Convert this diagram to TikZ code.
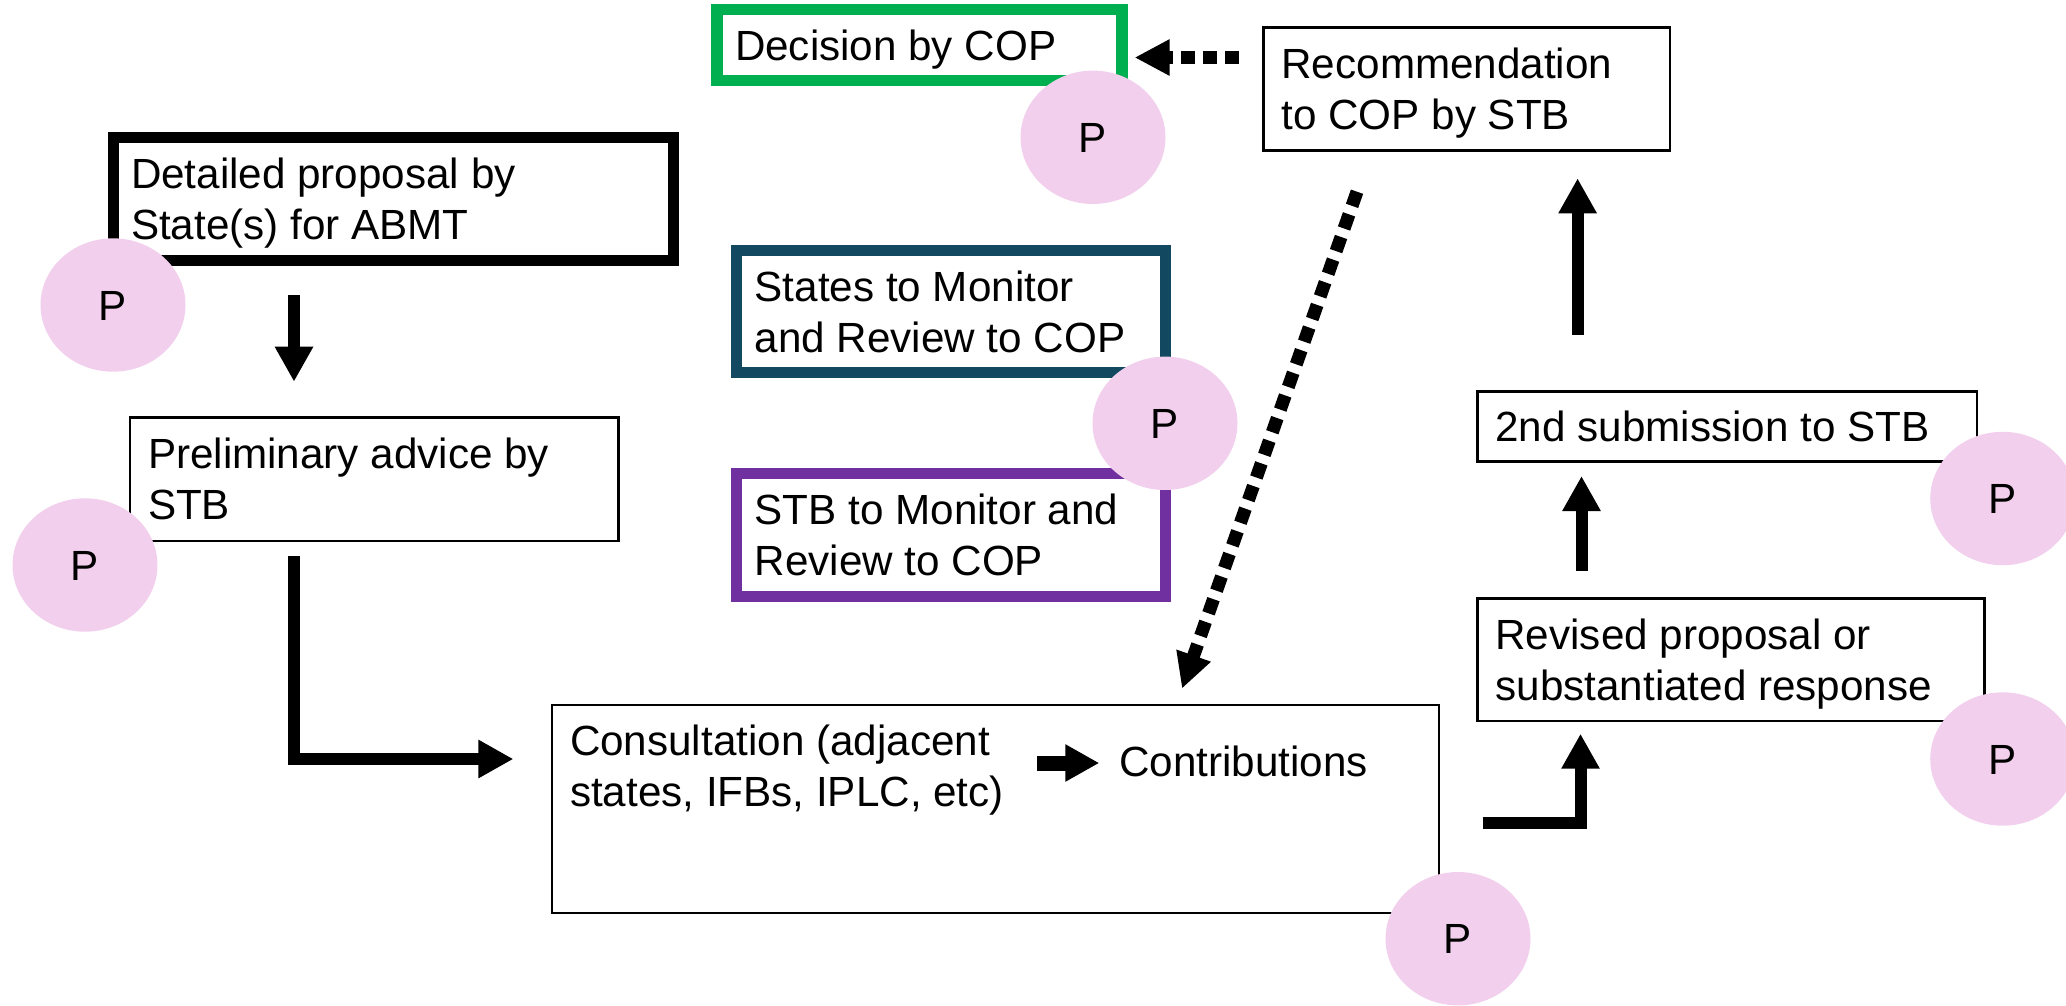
\documentclass[tikz,border=0pt]{standalone}
\usepackage{fontspec}
\setmainfont{Liberation Sans}
\usetikzlibrary{arrows.meta,calc,shapes.geometric}
\definecolor{cgreen}{RGB}{0,176,80}
\definecolor{cteal}{RGB}{19,72,97}
\definecolor{cpurple}{RGB}{112,48,160}
\definecolor{cpink}{RGB}{241,207,237}
\newcommand\bt[2]{\parbox[t]{#1}{\raggedright #2}}
\begin{document}
\begin{tikzpicture}[x=1pt,y=-1pt,
  every node/.style={font=\fontsize{42.2}{51}\selectfont},
  box/.style={draw, rectangle, inner xsep=18pt, inner ysep=0pt, text height=30.2pt, text depth=0pt, line join=miter},
  thinbox/.style={box, line width=2.5pt},
  thickbox/.style={box, line width=11pt},
  twolines/.style={text depth=51pt},
  pbub/.style={ellipse, fill=cpink, minimum width=145pt, minimum height=133.4pt, inner sep=0pt, text height=30.2pt, text depth=0pt},
  arr/.style={line width=12pt, -{Triangle[length=35pt,width=36pt]}, line join=miter},
  smallarr/.style={line width=15pt, -{Triangle[length=34pt,width=35pt]}},
  dotarr/.style={line width=13pt, dash pattern=on 14pt off 8pt, -{Triangle[length=35pt,width=34pt]}},
]
\useasboundingbox (0,0) rectangle (2066,1005);

% boxes
\node[thickbox, draw=cgreen, line width=11.5pt, minimum width=405pt, minimum height=71.2pt] (dec) at (919.5,44.9) {\bt{369pt}{Decision by COP}};
\node[thinbox, twolines, minimum width=406.5pt, minimum height=123.2pt] (rec) at (1466.75,88.9) {\bt{370.5pt}{Recommendation\\to COP by STB}};
\node[thickbox, twolines, minimum width=560.5pt, minimum height=123pt] (det) at (393.25,199) {\bt{524.5pt}{Detailed proposal by\\State(s) for ABMT}};
\node[thinbox, twolines, minimum width=488.5pt, minimum height=123.3pt] (pre) at (374.25,479.35) {\bt{452.5pt}{Preliminary advice by\\STB}};
\node[thickbox, draw=cteal, twolines, minimum width=428.7pt, minimum height=122pt] (sta) at (951.05,311.5) {\bt{392.7pt}{States to Monitor\\and Review to COP}};
\node[thickbox, draw=cpurple, twolines, minimum width=428.7pt, minimum height=122.2pt] (stb) at (951.05,534.9) {\bt{392.7pt}{STB to Monitor and\\Review to COP}};
\node[thinbox, text depth=138.2pt, minimum width=887pt, minimum height=208pt] (con) at (995.5,809) {\bt{851pt}{Consultation (adjacent\\states, IFBs, IPLC, etc)}};
\node[anchor=base west, inner sep=0pt] (contrib) at (1118.9,776.7) {Contributions};
\node[thinbox, minimum width=499.5pt, minimum height=70.2pt] (sec) at (1727.25,426.6) {\bt{463.5pt}{2nd submission to STB}};
\node[thinbox, twolines, minimum width=506.9pt, minimum height=122.3pt] (rev) at (1730.95,659.65) {\bt{470.9pt}{Revised proposal or\\substantiated response}};

% connectors
\draw[dotarr] ($(rec.west)+(-23.25,-31.4)$) -- ($(dec.east)+(6.85,12.6)$);
\draw[dotarr, dash pattern=on 15pt off 9pt] ($(rec.south west)+(94.75,39.95)$) -- ($(con.north west)+(631.25,-15.15)$);
\draw[arr] ($(det.south west)+(186.5,29)$) -- ($(pre.north west)+(165.25,-34.75)$);
\draw[arr] ($(pre.south west)+(165.25,13.35)$) |- ($(con.west)+(-37.35,-50)$);
\draw[arr] ($(con.east)+(42.45,13.5)$) -| ($(rev.south west)+(104.25,11.65)$);
\draw[arr] ($(rev.north west)+(105.25,-26.55)$) -- ($(sec.south west)+(105.25,13.05)$);
\draw[arr] ($(sec.north west)+(101.35,-55.25)$) -- ($(rec.south west)+(315.35,26.55)$);
\draw[smallarr] ($(contrib.base west)+(-81.9,-13.7)$) -- ($(contrib.base west)+(-19.6,-13.7)$);

% P bubbles
\node[pbub] (p1) at (1093,137.3) {P};
\node[pbub] (p2) at (113,305) {P};
\node[pbub] (p3) at (85,565) {P};
\node[pbub] (p4) at (1165,423.3) {P};
\node[pbub] (p5) at (1458,938.7) {P};
\node[pbub] (p6) at (2002.7,498.5) {P};
\node[pbub] (p7) at (2002.7,759) {P};
\end{tikzpicture}
\end{document}
